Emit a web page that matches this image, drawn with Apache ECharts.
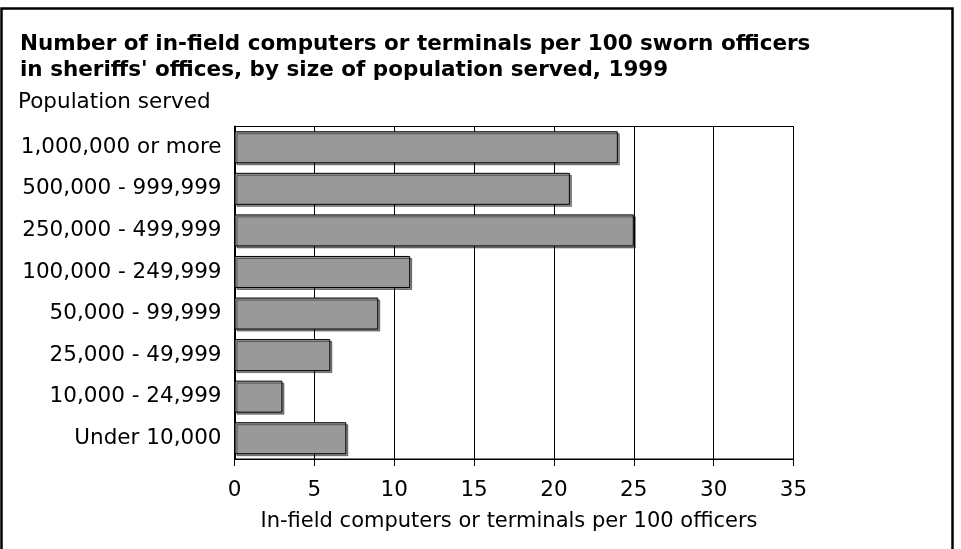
<!DOCTYPE html>
<html>
<head>
<meta charset="utf-8">
<script src="https://cdn.jsdelivr.net/npm/echarts@6/dist/echarts.min.js"></script>
<style>
html,body{margin:0;padding:0;background:#fff;}
#chart{width:961px;height:549px;}
</style>
</head>
<body>
<div id="chart"></div>
<script>
var categories = ['1,000,000 or more','500,000 - 999,999','250,000 - 499,999','100,000 - 249,999','50,000 - 99,999','25,000 - 49,999','10,000 - 24,999','Under 10,000'];
var values = [24, 21, 25, 11, 9, 6, 3, 7];
var xTicks = [0, 5, 10, 15, 20, 25, 30, 35];
var titleText = "Number of in-field computers or terminals per 100 sworn officers\nin sheriffs' offices, by size of population served, 1999";
var yAxisTitle = 'Population served';
var xAxisTitle = 'In-field computers or terminals per 100 officers';

var FONT = '"DejaVu Sans", "Liberation Sans", Arial, sans-serif';
var chart = echarts.init(document.getElementById('chart'), null, {renderer: 'canvas'});
chart.setOption({
  backgroundColor: '#fff',
  animation: false,
  title: {
    text: titleText,
    left: 15,
    top: 27,
    textStyle: {fontFamily: FONT, fontSize: 21.5, fontWeight: 'bold', color: '#000', lineHeight: 25.5}
  },
  graphic: [
    {type: 'rect', shape: {x: 1.5, y: 8.5, width: 951, height: 600}, style: {fill: 'none', stroke: '#000', lineWidth: 2.5}, silent: true},
    {type: 'text', left: 18, top: 91, style: {text: yAxisTitle, font: '21.5px ' + FONT, fill: '#000'}}
  ],
  grid: {left: 234.5, right: 167.5, top: 126.5, bottom: 90, show: true, borderColor: '#000', borderWidth: 1, containLabel: false},
  xAxis: {
    type: 'value', min: 0, max: 35, interval: 5,
    name: xAxisTitle, nameLocation: 'middle', nameGap: 52,
    nameTextStyle: {fontFamily: FONT, fontSize: 21, color: '#000', padding: [0, 10, 0, 0]},
    axisLine: {show: true, lineStyle: {color: '#000', width: 1}},
    axisTick: {show: true, length: 7, lineStyle: {color: '#000', width: 1}},
    axisLabel: {margin: 20, fontFamily: FONT, fontSize: 21.5, color: '#000',
      formatter: function (v) { return xTicks.indexOf(v) >= 0 ? String(v) : ''; }},
    splitLine: {show: true, lineStyle: {color: '#000', width: 1}}
  },
  yAxis: {
    type: 'category', data: categories, inverse: true,
    axisLine: {show: true, lineStyle: {color: '#000', width: 2}},
    axisTick: {show: false},
    axisLabel: {margin: 13, fontFamily: FONT, fontSize: 21.5, color: '#000'},
    splitLine: {show: false}
  },
  series: [{
    type: 'bar',
    data: values,
    barCategoryGap: '23%',
    itemStyle: {color: '#999999', borderColor: '#000', borderWidth: 1,
      shadowColor: 'rgba(0,0,0,0.45)', shadowOffsetX: 2, shadowOffsetY: 2, shadowBlur: 0}
  }]
});
</script>
</body>
</html>
